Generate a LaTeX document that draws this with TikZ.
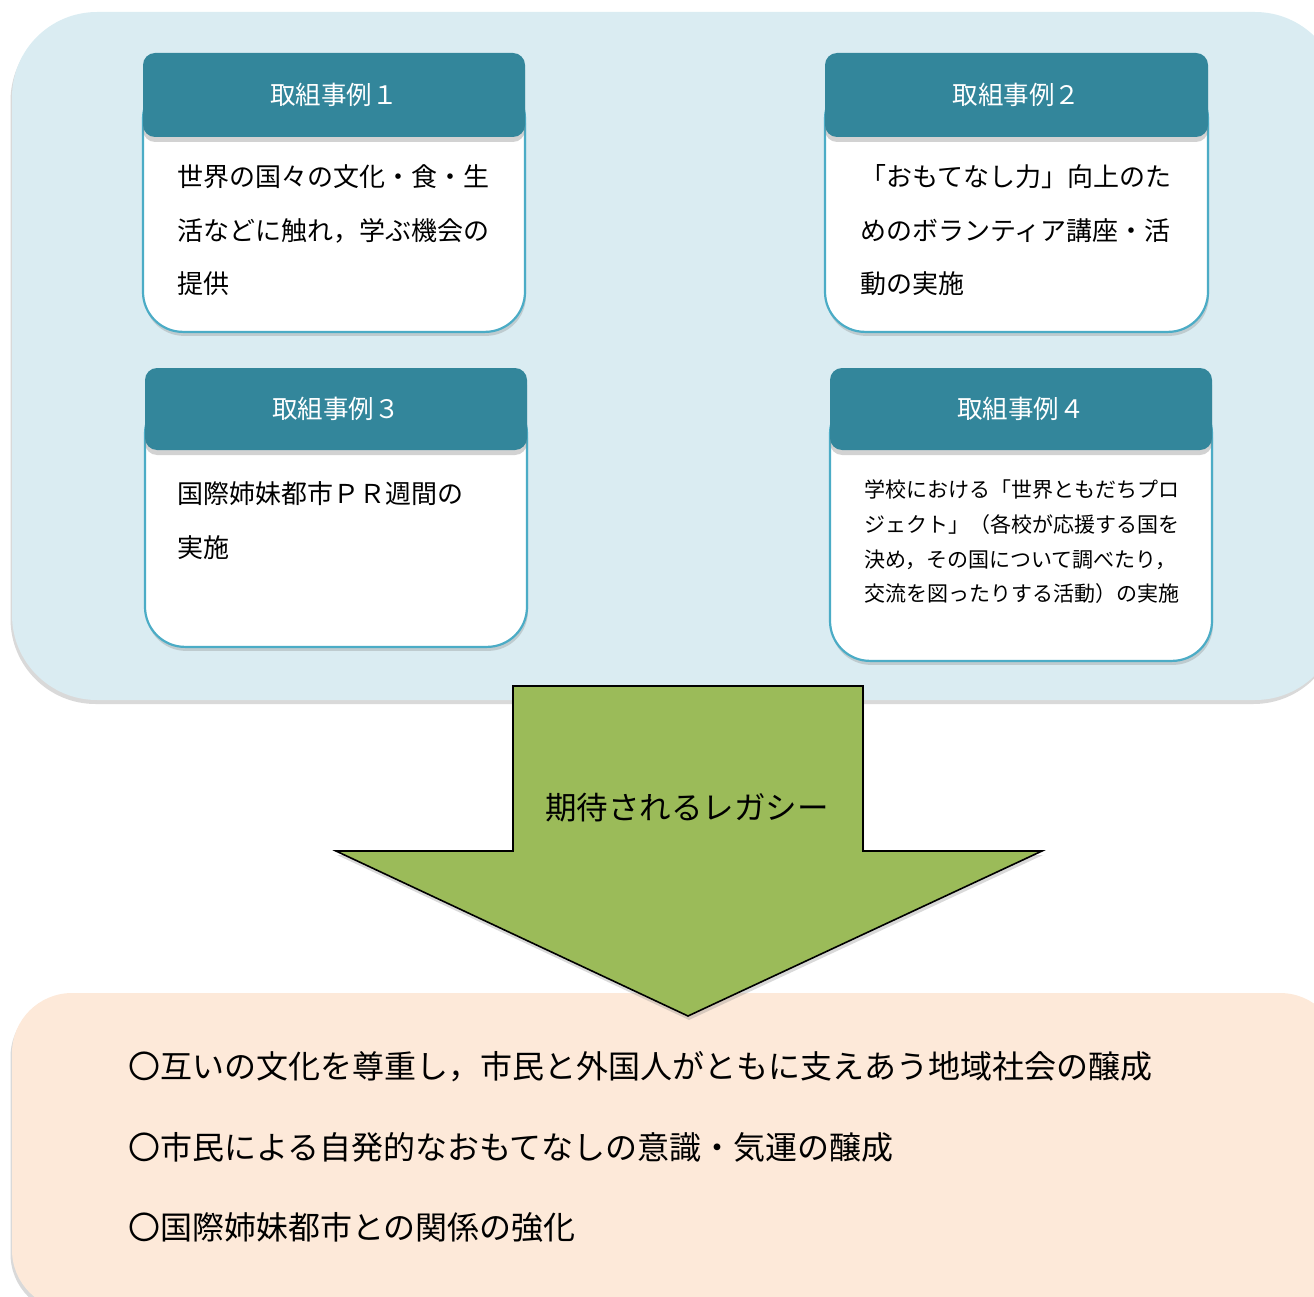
\documentclass[tikz,border=0pt]{standalone}
\usepackage{fontspec}
\newfontfamily\jp{Noto Sans CJK JP}
\usetikzlibrary{shadows}
\definecolor{bgblue}{HTML}{DAECF2}
\definecolor{hdrteal}{HTML}{33869B}
\definecolor{bordteal}{HTML}{4BACC6}
\definecolor{peach}{HTML}{FDE9D9}
\definecolor{leaf}{HTML}{9BBB59}
\tikzset{
  panel/.style={rounded corners=85pt, drop shadow={shadow xshift=-1.5pt, shadow yshift=-4pt, opacity=0.25, fill=black!60}},
  bodybox/.style={draw=bordteal, line width=2.2pt, fill=white, rounded corners=40pt, inner sep=0pt,
     drop shadow={shadow xshift=1pt, shadow yshift=-4pt, opacity=0.3}},
  hdr/.style={fill=hdrteal, rounded corners=12pt, text=white, inner sep=0pt,
     font=\jp\fontsize{25.5}{30}\selectfont,
     drop shadow={shadow xshift=0pt, shadow yshift=-5pt, opacity=0.35}},
  bodytxt/.style={anchor=west, inner sep=0pt, text=black, font=\jp\fontsize{26}{30}\selectfont},
  smalltxt/.style={anchor=west, inner sep=0pt, text=black, font=\jp\fontsize{21}{25}\selectfont},
  legtxt/.style={anchor=west, inner sep=0pt, text=black, font=\jp\fontsize{32}{36}\selectfont},
}
\begin{document}
\begin{tikzpicture}[x=1pt,y=-1pt]
\useasboundingbox (0,0) rectangle (1314,1297);
% background panels
\fill[bgblue, panel] (12,12) rectangle (1340,700);
\fill[peach, panel, rounded corners=60pt] (12,993) rectangle (1340,1310);

% box 1
\node[bodybox, minimum width=382pt, minimum height=253pt, anchor=south] (b1) at (334,333) {};
\node[hdr, minimum width=382pt, minimum height=84pt] (h1) at (334,95) {取組事例１};
\node[bodytxt] (t1a) at (177,177) {世界の国々の文化・食・生};
\node[bodytxt] (t1b) at (177,231) {活などに触れ，学ぶ機会の};
\node[bodytxt] (t1c) at (177,284) {提供};

% box 2
\node[bodybox, minimum width=383pt, minimum height=253pt, anchor=south] (b2) at (1016.5,333) {};
\node[hdr, minimum width=383pt, minimum height=84pt] (h2) at (1016.5,95) {取組事例２};
\node[bodytxt] (t2a) at (860,177) {「おもてなし力」向上のた};
\node[bodytxt] (t2b) at (860,231) {めのボランティア講座・活};
\node[bodytxt] (t2c) at (860,284) {動の実施};

% box 3
\node[bodybox, minimum width=382pt, minimum height=253pt, anchor=south] (b3) at (336,648) {};
\node[hdr, minimum width=382pt, minimum height=82pt] (h3) at (336,409) {取組事例３};
\node[bodytxt] (t3a) at (177,494) {国際姉妹都市ＰＲ週間の};
\node[bodytxt] (t3b) at (177,548) {実施};

% box 4
\node[bodybox, minimum width=382pt, minimum height=267pt, anchor=south] (b4) at (1021,662) {};
\node[hdr, minimum width=382pt, minimum height=82pt] (h4) at (1021,409) {取組事例４};
\node[smalltxt] (t4a) at (864,490) {学校における「世界ともだちプロ};
\node[smalltxt] (t4b) at (864,525) {ジェクト」（各校が応援する国を};
\node[smalltxt] (t4c) at (864,560) {決め，その国について調べたり，};
\node[smalltxt] (t4d) at (864,594) {交流を図ったりする活動）の実施};

% arrow
\coordinate (a1) at (513,686);
\coordinate (a2) at (863,686);
\coordinate (a3) at (863,851);
\coordinate (a4) at (1042,851);
\coordinate (tip) at (688,1016);
\coordinate (a6) at (336,851);
\coordinate (a7) at (513,851);
\draw[fill=leaf, line width=1.6pt, line join=miter,
  drop shadow={shadow xshift=1pt, shadow yshift=-4pt, opacity=0.3}]
  (a1) -- (a2) -- (a3) -- (a4) -- (tip) -- (a6) -- (a7) -- cycle;
\node[inner sep=0pt, font=\jp\fontsize{31.5}{36}\selectfont] (legacy) at (687,808) {期待されるレガシー};

% legacy list
\node[legtxt] (l1) at (128,1067) {〇互いの文化を尊重し，市民と外国人がともに支えあう地域社会の醸成};
\node[legtxt] (l2) at (128,1147) {〇市民による自発的なおもてなしの意識・気運の醸成};
\node[legtxt] (l3) at (128,1227) {〇国際姉妹都市との関係の強化};
\end{tikzpicture}
\end{document}
